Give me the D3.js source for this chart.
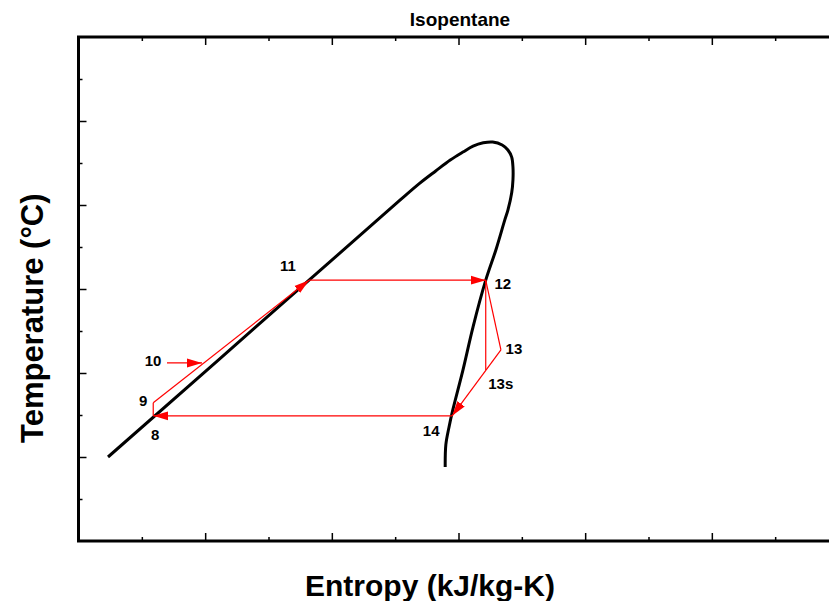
<!DOCTYPE html>
<html>
<head>
<meta charset="utf-8">
<script src="https://cdn.jsdelivr.net/npm/d3@7/dist/d3.min.js"></script>
<style>
  html, body { margin: 0; padding: 0; background: #fff; }
  svg { display: block; }
  text { font-family: "Liberation Sans", Arial, Helvetica, sans-serif; font-weight: bold; fill: #000; }
</style>
</head>
<body>
<svg id="chart" width="829" height="601"></svg>
<script>
// ---- Data (arbitrary plot units; axes carry no numeric labels) ----
const title = "Isopentane";
const xLabel = "Entropy (kJ/kg-K)";
const yLabel = "Temperature (\u00B0C)";

// Axis tick values (major = longer tick, minor = shorter tick)
const xMajorTicks = [2, 4, 6, 8, 10, 12];
const xMinorTicks = [1, 3, 5, 7, 9, 11];
const yMajorTicks = [2, 4, 6, 8, 10];
const yMinorTicks = [1, 3, 5, 7, 9, 11];

// Saturation dome (liquid line -> critical region -> vapour line)
const domeS = [0.466, 3.64, 5.08, 5.39, 5.64, 5.87, 6.07, 6.23, 6.39, 6.54, 6.69, 6.78, 6.84, 6.86, 6.86, 6.84, 6.78, 6.73, 6.59, 6.43, 6.23, 6.07, 5.91, 5.85, 5.80, 5.79];
const domeT = [2.00, 6.21, 8.12, 8.52, 8.81, 9.07, 9.26, 9.40, 9.48, 9.50, 9.43, 9.31, 9.14, 8.90, 8.60, 8.29, 7.88, 7.64, 6.93, 6.21, 5.10, 4.07, 3.12, 2.71, 2.29, 1.76];

// Cycle state points
const stateNames = ["8", "9", "10", "11", "12", "13", "13s", "14"];
const stateS = [1.18, 1.18, 1.95, 3.64, 6.43, 6.67, 6.43, 5.90];
const stateT = [2.98, 3.29, 4.24, 6.21, 6.21, 4.55, 4.07, 2.98];

// Cycle process lines [from, to, arrowhead at end]
const processes = [
  ["14", "8", true],
  ["8", "9", false],
  ["9", "11", true],
  ["11", "12", true],
  ["12", "13", false],
  ["13", "14", true],
  ["12", "13s", false]
];

// ---- Layout / style (not data) ----
const W = 829, H = 601;
const mLeft = 78.5, mRight = 838.5, mTop = 37, mBottom = 541;
const labelOffsets = { "8": [2, 19], "9": [-10, -2], "10": [-49, -2], "11": [-21, -15],
  "12": [17, 3], "13": [13, -1], "13s": [15, 13], "14": [-21, 15] };

const svg = d3.select("#chart");
const x = d3.scaleLinear().domain([0, 12]).range([mLeft, mRight]);
const y = d3.scaleLinear().domain([0, 12]).range([mBottom, mTop]);

// Axes with inward ticks on all four sides
function addAxis(gen, tr, vals, size) {
  const g = svg.append("g").attr("transform", tr)
    .call(gen.tickValues(vals).tickSize(size).tickFormat(""));
  g.select(".domain").remove();
  g.selectAll(".tick line").attr("stroke", "#000").attr("stroke-width", 1.5);
}
addAxis(d3.axisBottom(x), `translate(0,${mBottom})`, xMajorTicks, -8);
addAxis(d3.axisBottom(x), `translate(0,${mBottom})`, xMinorTicks, -4);
addAxis(d3.axisTop(x), `translate(0,${mTop})`, xMajorTicks, -8);
addAxis(d3.axisTop(x), `translate(0,${mTop})`, xMinorTicks, -4);
addAxis(d3.axisLeft(y), `translate(${mLeft},0)`, yMajorTicks, -8);
addAxis(d3.axisLeft(y), `translate(${mLeft},0)`, yMinorTicks, -4);
addAxis(d3.axisRight(y), `translate(${mRight},0)`, yMajorTicks, -8);
addAxis(d3.axisRight(y), `translate(${mRight},0)`, yMinorTicks, -4);

// Frame
svg.append("rect")
  .attr("x", x(0)).attr("y", y(12))
  .attr("width", x(12) - x(0)).attr("height", y(0) - y(12))
  .attr("fill", "none").attr("stroke", "#000").attr("stroke-width", 3);

// Arrowhead marker
svg.append("defs").append("marker")
  .attr("id", "arrow")
  .attr("markerUnits", "userSpaceOnUse")
  .attr("viewBox", "0 -5 15 10")
  .attr("refX", 15).attr("refY", 0)
  .attr("markerWidth", 15).attr("markerHeight", 10)
  .attr("orient", "auto")
  .append("path").attr("d", "M0,-4.5L15,0L0,4.5Z").attr("fill", "#ff0000");

// Saturation dome
const dome = domeS.map((s, i) => [s, domeT[i]]);
svg.append("path")
  .datum(dome)
  .attr("fill", "none").attr("stroke", "#000").attr("stroke-width", 3)
  .attr("stroke-linejoin", "round").attr("stroke-linecap", "butt")
  .attr("d", d3.line().x(d => x(d[0])).y(d => y(d[1])).curve(d3.curveCatmullRom.alpha(0.5)));

// Cycle processes
const state = {};
stateNames.forEach((n, i) => state[n] = { s: stateS[i], t: stateT[i] });
processes.forEach(([a, b, arrow]) => {
  svg.append("line")
    .attr("x1", x(state[a].s)).attr("y1", y(state[a].t))
    .attr("x2", x(state[b].s)).attr("y2", y(state[b].t))
    .attr("stroke", "#ff0000").attr("stroke-width", 1.2)
    .attr("marker-end", arrow ? "url(#arrow)" : null);
});

// Pointer arrow for state 10
svg.append("line")
  .attr("x1", x(state["10"].s) - 35).attr("y1", y(state["10"].t))
  .attr("x2", x(state["10"].s)).attr("y2", y(state["10"].t))
  .attr("stroke", "#ff0000").attr("stroke-width", 1.2)
  .attr("marker-end", "url(#arrow)");

// State labels
stateNames.forEach(n => {
  const [dx, dy] = labelOffsets[n];
  svg.append("text")
    .attr("x", x(state[n].s) + dx).attr("y", y(state[n].t) + dy)
    .attr("text-anchor", "middle").attr("dominant-baseline", "central")
    .style("font-size", "15px")
    .text(n);
});

// Titles
svg.append("text").attr("x", 460).attr("y", 26).attr("text-anchor", "middle")
  .style("font-size", "19px").text(title);
svg.append("text").attr("x", 305).attr("y", 596).attr("text-anchor", "start")
  .style("font-size", "30px").text(xLabel);
svg.append("text").attr("transform", "translate(43,443) rotate(-90)")
  .attr("text-anchor", "start")
  .style("font-size", "31px").text(yLabel);
</script>
</body>
</html>
